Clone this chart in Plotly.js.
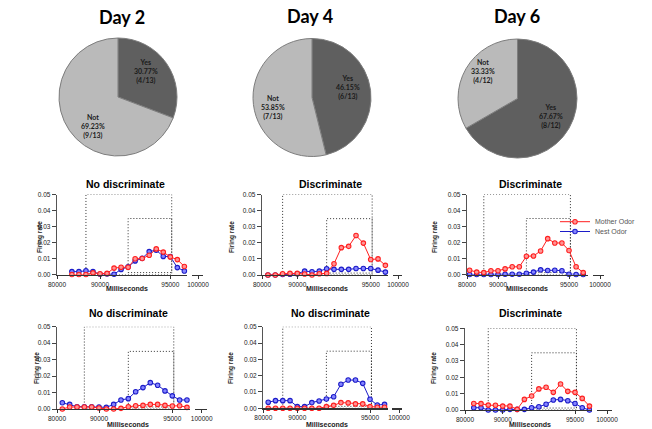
<!DOCTYPE html>
<html><head><meta charset="utf-8">
<script src="https://cdn.plot.ly/plotly-3.0.1.min.js"></script>
<style>html,body{margin:0;padding:0;background:#fff}</style>
</head><body><div id="chart" style="width:652px;height:429px"></div>
<script>
// ---------- Pie data ----------
const pieDays = ["Day 2", "Day 4", "Day 6"];
const pieLabels = ["Yes", "Not"];
const yesCounts = [4, 6, 8];
const notCounts = [9, 7, 4];
const yesPctText = ["30.77%", "46.15%", "67.67%"];
const notPctText = ["69.23%", "53.85%", "33.33%"];

// ---------- Line plot data ----------
const plotTitles = ["No discriminate", "Discriminate", "Discriminate", "No discriminate", "No discriminate", "Discriminate"];
const seriesNames = ["Mother Odor", "Nest Odor"];
const xAxisTitle = "Milliseconds";
const yAxisTitle = "Firing rate";
const xTickLabels = ["80000", "90000", "95000", "100000"];
const yTickVals = [0, 0.01, 0.02, 0.03, 0.04, 0.05];
const yTickLabels = ["0.00", "0.01", "0.02", "0.03", "0.04", "0.05"];
const bigWindowMs = [89000, 95100];
const bigWindowTop = 0.05;
const smallWindowMs = [92000, 95100];
const smallWindowRate = [0.0012, 0.035];

const timeMs = [88000, 88500, 89000, 89500, 90000, 90500, 91000, 91500, 92000, 92500, 93000, 93500, 94000, 94500, 95000, 95500, 96000];
const timeMsD = [87500, 88000, 88500, 89000, 89500, 90000, 90500, 91000, 91500, 92000, 92500, 93000, 93500, 94000, 94500, 95000, 95500, 96000];

const motherA = [0, 0, 0, 0.001, 0.0005, 0.0007, 0.004, 0.0045, 0.0045, 0.0098, 0.0100, 0.0120, 0.0160, 0.0140, 0.0110, 0.0093, 0.0050];
const nestA   = [0.0018, 0.0018, 0.0023, 0.0018, 0.0002, 0.0003, 0.0002, 0.0032, 0.0048, 0.0085, 0.0101, 0.0143, 0.0152, 0.0113, 0.0112, 0.0043, 0.0022];
const motherB = [0, 0, 0.0008, 0.001, 0.001, 0.0006, 0, 0.0008, 0.001, 0.007, 0.017, 0.0178, 0.0245, 0.0198, 0.0096, 0.0100, 0.006];
const nestB   = [0, 0, 0.0003, 0.0005, 0.0008, 0.0024, 0.002, 0.0024, 0.0039, 0.0035, 0.0035, 0.0035, 0.004, 0.004, 0.004, 0.003, 0.0018];
const motherC = [0.0027, 0.0015, 0.0012, 0.0023, 0.0023, 0.0035, 0.0048, 0.0048, 0.0114, 0.0116, 0.0147, 0.0224, 0.0197, 0.0197, 0.015, 0.0048, 0.0012];
const nestC   = [0, 0, 0, 0, 0, 0.0002, 0.0002, 0.0002, 0.0008, 0.0015, 0.0029, 0.0025, 0.0027, 0.0023, 0.0002, 0, 0];
const motherD = [0, 0.0012, 0.0012, 0.0012, 0.0012, 0.0006, 0, 0, 0.0004, 0.0014, 0.002, 0.0022, 0.0028, 0.0028, 0.0022, 0.0018, 0.002, 0.001];
const nestD   = [0.0038, 0.0028, 0.0014, 0.0014, 0.0014, 0.0012, 0.001, 0.0028, 0.0055, 0.0063, 0.0105, 0.013, 0.016, 0.0144, 0.011, 0.008, 0.0055, 0.0055];
const motherE = [0, 0, 0, 0, 0, 0, 0, 0, 0.001, 0.0018, 0.0035, 0.0033, 0.0027, 0.0027, 0.001, 0.0006, 0.0006];
const nestE   = [0.0037, 0.0047, 0.0047, 0.0047, 0.001, 0.001, 0.0035, 0.0045, 0.0057, 0.0071, 0.0147, 0.0173, 0.0173, 0.0153, 0.0055, 0.002, 0.0024];
const motherF = [0.004, 0.0039, 0.003, 0.0029, 0.0024, 0.0024, 0.0004, 0.0065, 0.0086, 0.0129, 0.0139, 0.0108, 0.0159, 0.0114, 0.0108, 0.0071, 0.0024];
const nestF   = [0.0014, 0.0014, 0, 0, 0, 0.0004, 0.0004, 0.0004, 0.0014, 0.002, 0.0035, 0.0061, 0.0065, 0.0057, 0.004, 0.0014, 0];

// ---------- layout geometry (pixels) ----------
const W = 652, H = 429;
const PX = p => p / W, PY = p => 1 - p / H;
const pieGeom = [
  {cx: 118, cy: 97, r: 59, tx: 121.7, ty: 16.7, yes: [146, 71], not: [93.3, 126]},
  {cx: 312, cy: 97.5, r: 59, tx: 310, ty: 15.5, yes: [348.3, 87.3], not: [273.3, 107.3]},
  {cx: 517.5, cy: 98.5, r: 59.5, tx: 516.7, ty: 15.5, yes: [550.7, 116.7], not: [483.3, 71]}
];
const geom = [
  {ax: 57,    p90: 100,   p95: 170.3, gapL: 187, gapR: 192, end: 203, t100: 198,   y0: 274.5, y5: 194.5, tX: 125, tY: 184, mX: 127, mY: 288, fX: 40,  fY: 237},
  {ax: 262,   p90: 297.3, p95: 370.7, gapL: 388, gapR: 393, end: 402, t100: 398,   y0: 275,   y5: 194.5, tX: 330, tY: 184, mX: 327, mY: 288, fX: 232, fY: 237},
  {ax: 467,   p90: 498,   p95: 569,   gapL: 588, gapR: 593, end: 604, t100: 600,   y0: 274.5, y5: 194.5, tX: 530, tY: 184, mX: 527, mY: 288, fX: 435, fY: 237},
  {ax: 57,    p90: 99,    p95: 172.3, gapL: 190, gapR: 195, end: 207, t100: 201.7, y0: 409,   y5: 326.7, tX: 128, tY: 313, mX: 128, mY: 424, fX: 37,  fY: 368},
  {ax: 263.3, p90: 297.3, p95: 370,   gapL: 388, gapR: 392, end: 402, t100: 399,   y0: 408.3, y5: 326.7, tX: 330, tY: 313, mX: 327, mY: 424, fX: 231, fY: 368},
  {ax: 465,   p90: 502.7, p95: 575,   gapL: 592, gapR: 597, end: 612, t100: 607,   y0: 410,   y5: 328.3, tX: 530, tY: 313, mX: 530, mY: 424, fX: 434, fY: 368}
];
const lineData = [
  {t: timeMs, m: motherA, n: nestA},
  {t: timeMs, m: motherB, n: nestB},
  {t: timeMs, m: motherC, n: nestC},
  {t: timeMsD, m: motherD, n: nestD},
  {t: timeMs, m: motherE, n: nestE},
  {t: timeMs, m: motherF, n: nestF}
];

const FONT = "Liberation Sans, Arial, sans-serif";
const RED = "#ff1f1f", BLUE = "#1c1cc8";
const traces = [], annotations = [], shapes = [];
const layout = {
  width: W, height: H, margin: {l: 0, r: 0, t: 0, b: 0},
  paper_bgcolor: "#fff", plot_bgcolor: "rgba(0,0,0,0)",
  showlegend: true, annotations, shapes
};

// pies
pieGeom.forEach((g, i) => {
  traces.push({
    type: "pie", values: [yesCounts[i], notCounts[i]], labels: pieLabels,
    sort: false, direction: "clockwise", rotation: 0,
    marker: {colors: ["#5f5f5f", "#bababa"], line: {color: "#7d7d7d", width: 1}},
    textinfo: "none", hoverinfo: "skip", showlegend: false,
    domain: {x: [PX(g.cx - g.r), PX(g.cx + g.r)], y: [PY(g.cy + g.r), PY(g.cy - g.r)]}
  });
  annotations.push({xref: "paper", yref: "paper", x: PX(g.tx), y: PY(g.ty), xanchor: "center", yanchor: "middle",
    text: "<b>" + pieDays[i] + "</b>", showarrow: false, font: {family: "Lato, sans-serif", size: 18, color: "#000"}});
  const total = yesCounts[i] + notCounts[i];
  annotations.push({xref: "paper", yref: "paper", x: PX(g.yes[0]), y: PY(g.yes[1]), xanchor: "center", yanchor: "middle",
    text: "<b>" + pieLabels[0] + "<br>" + yesPctText[i] + "<br>(" + yesCounts[i] + "/" + total + ")</b>",
    showarrow: false, font: {family: "Lato, sans-serif", size: 7, color: "#1a1a1a"}});
  annotations.push({xref: "paper", yref: "paper", x: PX(g.not[0]), y: PY(g.not[1]), xanchor: "center", yanchor: "middle",
    text: "<b>" + pieLabels[1] + "<br>" + notPctText[i] + "<br>(" + notCounts[i] + "/" + total + ")</b>",
    showarrow: false, font: {family: "Lato, sans-serif", size: 7, color: "#1a1a1a"}});
});

// line plots
geom.forEach((g, i) => {
  const k = i + 1;
  const xs = k === 1 ? "" : String(k);
  const xv = p => 90000 + (p - g.p90) / (g.p95 - g.p90) * 5000;
  const xStart = xv(g.ax), xEnd = xv(g.end);
  layout["xaxis" + xs] = {
    domain: [PX(g.ax), PX(g.end)], range: [xStart, xEnd], anchor: "y" + xs,
    showgrid: false, zeroline: false, showline: true, linecolor: "#333", linewidth: 1.2,
    ticks: "outside", ticklen: 3, tickwidth: 1, tickcolor: "#333",
    tickvals: [xStart, 90000, 95000, xv(g.t100)], ticktext: xTickLabels,
    tickfont: {family: FONT, size: 6.5, color: "#222"}, fixedrange: true
  };
  layout["yaxis" + xs] = {
    domain: [PY(g.y0), PY(g.y5)], range: [0, 0.05], anchor: "x" + xs,
    showgrid: false, zeroline: false, showline: true, linecolor: "#555", linewidth: 1.3,
    ticks: "outside", ticklen: 4, tickwidth: 1, tickcolor: "#444",
    tickvals: yTickVals, ticktext: yTickLabels,
    tickfont: {family: FONT, size: 6.5, color: "#222"}, fixedrange: true
  };
  // stimulus windows (dotted)
  shapes.push({type: "rect", xref: "x" + xs, yref: "y" + xs, x0: bigWindowMs[0], x1: bigWindowMs[1], y0: 0, y1: bigWindowTop,
    line: {color: "#333", width: 1, dash: "1px,2px"}, layer: "below"});
  shapes.push({type: "rect", xref: "x" + xs, yref: "y" + xs, x0: smallWindowMs[0], x1: smallWindowMs[1], y0: smallWindowRate[0], y1: smallWindowRate[1],
    line: {color: "#333", width: 1, dash: "1px,2px"}, layer: "below"});
  // axis break gap
  shapes.push({type: "line", xref: "paper", yref: "paper", x0: PX(g.gapL), x1: PX(g.gapR), y0: PY(g.y0), y1: PY(g.y0),
    line: {color: "#fff", width: 4}, layer: "above"});
  const d = lineData[i];
  traces.push({
    type: "scatter", mode: "lines+markers", x: d.t, y: d.n, xaxis: "x" + xs, yaxis: "y" + xs,
    name: seriesNames[1], showlegend: k === 3, legend: "legend2", cliponaxis: false,
    line: {color: BLUE, width: 1},
    marker: {symbol: "circle", size: 4.5, color: "#8585ff", line: {color: BLUE, width: 1.1}}, hoverinfo: "skip"
  });
  traces.push({
    type: "scatter", mode: "lines+markers", x: d.t, y: d.m, xaxis: "x" + xs, yaxis: "y" + xs,
    name: seriesNames[0], showlegend: k === 3, legend: "legend", cliponaxis: false,
    line: {color: RED, width: 1},
    marker: {symbol: "circle", size: 4.5, color: "#ff9494", line: {color: RED, width: 1.1}}, hoverinfo: "skip"
  });
  annotations.push({xref: "paper", yref: "paper", x: PX(g.tX), y: PY(g.tY), xanchor: "center", yanchor: "middle",
    text: "<b>" + plotTitles[i] + "</b>", showarrow: false, font: {family: FONT, size: 10.5, color: "#000"}});
  annotations.push({xref: "paper", yref: "paper", x: PX(g.mX), y: PY(g.mY), xanchor: "center", yanchor: "middle",
    text: "<b>" + xAxisTitle + "</b>", showarrow: false, font: {family: FONT, size: 7, color: "#222"}});
  annotations.push({xref: "paper", yref: "paper", x: PX(g.fX), y: PY(g.fY), xanchor: "center", yanchor: "middle",
    text: "<b>" + yAxisTitle + "</b>", textangle: -90, showarrow: false, font: {family: FONT, size: 6.5, color: "#222"}});
});

const legendCommon = {xanchor: "left", yanchor: "middle", bgcolor: "rgba(0,0,0,0)", borderwidth: 0,
  font: {family: FONT, size: 7, color: "#555"}, itemwidth: 30};
layout.legend = Object.assign({x: PX(555), y: PY(221.7)}, legendCommon);
layout.legend2 = Object.assign({x: PX(555), y: PY(231.5)}, legendCommon);

Plotly.newPlot("chart", traces, layout, {staticPlot: true, displayModeBar: false});
</script>
</body></html>
